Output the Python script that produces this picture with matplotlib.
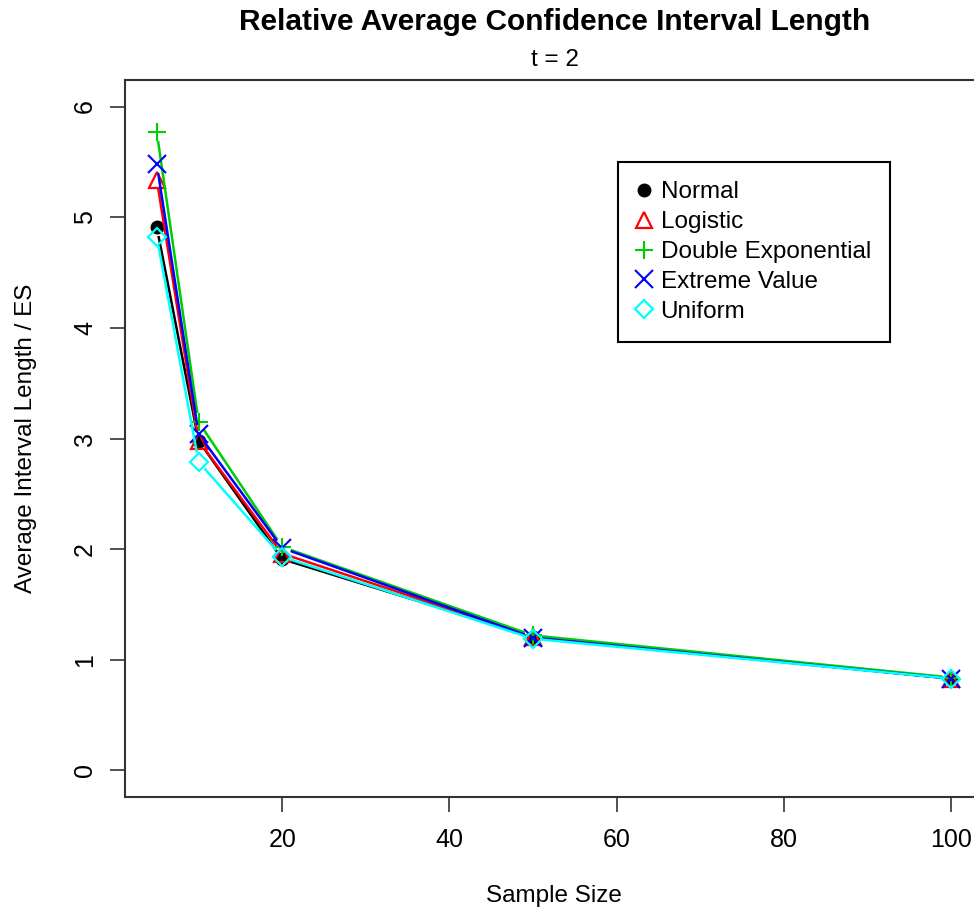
import numpy as np
import matplotlib
matplotlib.use("Agg")
import matplotlib.pyplot as plt
from matplotlib.lines import Line2D

plt.rcParams['font.family'] = ['Liberation Sans', 'DejaVu Sans']

# sample sizes and relative average interval lengths per error distribution
sample_size = [5, 10, 20, 50, 100]
normal = [4.91, 2.98, 1.91, 1.21, 0.83]
logistic = [5.34, 2.98, 1.96, 1.21, 0.83]
double_exp = [5.77, 3.15, 2.02, 1.22, 0.84]
extreme_val = [5.48, 3.04, 2.01, 1.20, 0.83]
uniform = [4.82, 2.79, 1.93, 1.19, 0.83]

labels = ["Normal", "Logistic", "Double Exponential", "Extreme Value", "Uniform"]
series = [normal, logistic, double_exp, extreme_val, uniform]
colors = ["black", "#FF0000", "#00CD00", "#0000FF", "#00FFFF"]
markers = ["o", "^", "+", "x", "D"]

W, H = 974, 916
fig = plt.figure(figsize=(W / 100, H / 100), dpi=100)
# plot region runs a little past the right edge, like the R device did
ax = fig.add_axes([125 / W, 1 - 797 / H, (983 - 125) / W, (797 - 80) / H])
ax.set_xlim(1.2, 103.8)
ax.set_ylim(-0.24, 6.24)


def gapped(x, y, gap=9):
    # type="b" style: shorten every segment so it stops short of the points
    pts = ax.transData.transform(np.column_stack([x, y]))
    segs = []
    for p, q in zip(pts[:-1], pts[1:]):
        d = q - p
        L = np.hypot(*d)
        if L <= 2 * gap:
            continue
        u = d / L
        a = ax.transData.inverted().transform(p + u * gap)
        b = ax.transData.inverted().transform(q - u * gap)
        segs.append((a, b))
    return segs


def marker_style(m, c):
    if m == "o":
        return dict(marker=m, ms=9, color=c)
    if m == "^":
        return dict(marker=m, ms=11, mfc='none', mec=c, mew=1.6)
    if m == "D":
        return dict(marker=m, ms=9, mfc='none', mec=c, mew=1.6)
    return dict(marker=m, ms=13, color=c, mew=1.5)


for ys, c, m in zip(series, colors, markers):
    for a, b in gapped(sample_size, ys):
        ax.plot([a[0], b[0]], [a[1], b[1]], color=c, lw=1.8, solid_capstyle='butt')
    ax.plot(sample_size, ys, ls='none', **marker_style(m, c))

for s in ax.spines.values():
    s.set_linewidth(1.5)
    s.set_color('#333333')

ax.set_xticks([20, 40, 60, 80, 100])
ax.set_yticks(range(0, 7))
ax.tick_params(axis='both', direction='out', length=11, width=1.2, labelsize=18,
               color='#333333')
ax.tick_params(axis='x', pad=11)
ax.tick_params(axis='y', pad=9)
for t in ax.get_yticklabels():
    t.set_rotation(90)
    t.set_va('center')

ax.set_xlabel("Sample Size", fontsize=17.5, labelpad=24)
ax.set_ylabel("Average Interval Length / ES", fontsize=17.5, labelpad=26)

fig.text(555 / W, 1 - 22 / H, "Relative Average Confidence Interval Length",
         ha='center', va='center', fontsize=21.5, fontweight='bold')
fig.text(555 / W, 1 - 60 / H, "t = 2", ha='center', va='center', fontsize=17.5)

handles = [Line2D([], [], ls='none', **marker_style(m, c)) for c, m in zip(colors, markers)]

leg = fig.legend(handles, labels, loc='upper left',
                 bbox_to_anchor=(618 / W, 1 - 162 / H), bbox_transform=fig.transFigure,
                 borderaxespad=0, fancybox=False, framealpha=1, edgecolor='black',
                 fontsize=17.5, handlelength=0.5, handletextpad=0.45, labelspacing=0.32,
                 borderpad=0.8)
leg.get_frame().set_linewidth(1.5)

fig.savefig("out.png", dpi=100)
